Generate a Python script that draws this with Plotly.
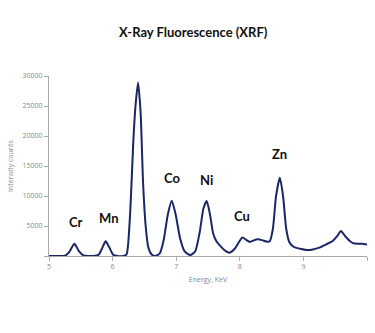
import plotly.graph_objects as go

# Spectrum (energy in keV, intensity in counts)
energy = [5.00, 5.15, 5.25, 5.32, 5.40, 5.47, 5.54, 5.62, 5.70, 5.78, 5.84, 5.89, 5.95, 6.01,
          6.07, 6.17, 6.22, 6.27, 6.33, 6.36, 6.40, 6.44, 6.48, 6.52, 6.56, 6.61, 6.67, 6.74,
          6.80, 6.87, 6.93, 6.99, 7.06, 7.13, 7.22, 7.30, 7.37, 7.43, 7.48, 7.53, 7.58, 7.63,
          7.70, 7.78, 7.84, 7.92, 7.98, 8.04, 8.10, 8.16, 8.22, 8.28, 8.35, 8.42, 8.47, 8.52,
          8.57, 8.63, 8.68, 8.73, 8.78, 8.85, 8.95, 9.05, 9.15, 9.25, 9.35, 9.46, 9.53, 9.59,
          9.65, 9.72, 9.78, 9.85, 9.92, 10.00]
counts = [0, 0, 50, 700, 2050, 800, 100, 0, 0, 200, 1400, 2450, 1400, 200,
          0, 0, 300, 6000, 20000, 25000, 28900, 24000, 12000, 5000, 1500, 300, 0, 400,
          2500, 7000, 9200, 7000, 3000, 800, 150, 800, 4000, 8000, 9150, 7000, 3800, 2500,
          1600, 800, 550, 1200, 2200, 3100, 2700, 2330, 2600, 2780, 2650, 2400, 2450, 4500,
          10000, 13050, 10000, 4500, 2300, 1500, 1200, 1000, 1100, 1400, 1900, 2500, 3300, 4150,
          3400, 2600, 2150, 2050, 2050, 1900]

# Element labels and their placement (data coordinates)
elements = ["Cr", "Mn", "Fe", "Co", "Ni", "Cu", "Zn"]
label_x = [5.43, 5.95, 6.42, 6.94, 7.47, 8.04, 8.62]
label_y = [5700, 6300, 32700, 13000, 12700, 6700, 17000]

x_tickvals = [5, 6, 7, 8, 9, 10]
x_ticktext = ["5", "6", "7", "8", "9", ""]
y_tickvals = [0, 5000, 10000, 15000, 20000, 25000, 30000]
y_ticktext = ["", "5000", "10000", "15000", "20000", "25000", "30000"]

fig = go.Figure()
fig.add_trace(go.Scatter(
    x=energy, y=counts, mode="lines",
    line=dict(color="#1c2566", width=2, shape="spline", smoothing=0.6),
    hoverinfo="skip", showlegend=False, cliponaxis=False,
))

for name, lx, ly in zip(elements, label_x, label_y):
    fig.add_annotation(x=lx, y=ly, text="<b>%s</b>" % name, showarrow=False,
                       font=dict(family="Lato, Open Sans, sans-serif", size=13, color="#111111"),
                       xanchor="center", yanchor="middle")

axis_font = dict(family="Open Sans, sans-serif", size=7, color="#888888")
fig.update_layout(
    width=375, height=333,
    margin=dict(l=49, r=8, t=76, b=77),
    paper_bgcolor="white", plot_bgcolor="white",
    title=dict(text="<b>X-Ray Fluorescence (XRF)</b>", x=0.515, xanchor="center",
               y=1 - 32 / 333, yanchor="middle",
               font=dict(family="Lato, Open Sans, sans-serif", size=13, color="#111111")),
    xaxis=dict(range=[5, 10], tickvals=x_tickvals, ticktext=x_ticktext,
               showgrid=False, zeroline=False, showline=True, linecolor="#aaaaaa", linewidth=1,
               ticks="outside", ticklen=4, tickcolor="#aaaaaa", tickfont=axis_font,
               title=dict(text="Energy, KeV", font=axis_font, standoff=6)),
    yaxis=dict(range=[0, 30000], tickvals=y_tickvals, ticktext=y_ticktext,
               showgrid=False, zeroline=False, showline=True, linecolor="#aaaaaa", linewidth=1,
               ticks="outside", ticklen=4, tickcolor="#aaaaaa", tickfont=axis_font,
               title=dict(text="Intensity counts", font=axis_font, standoff=8)),
)

fig.write_html("out.html")
